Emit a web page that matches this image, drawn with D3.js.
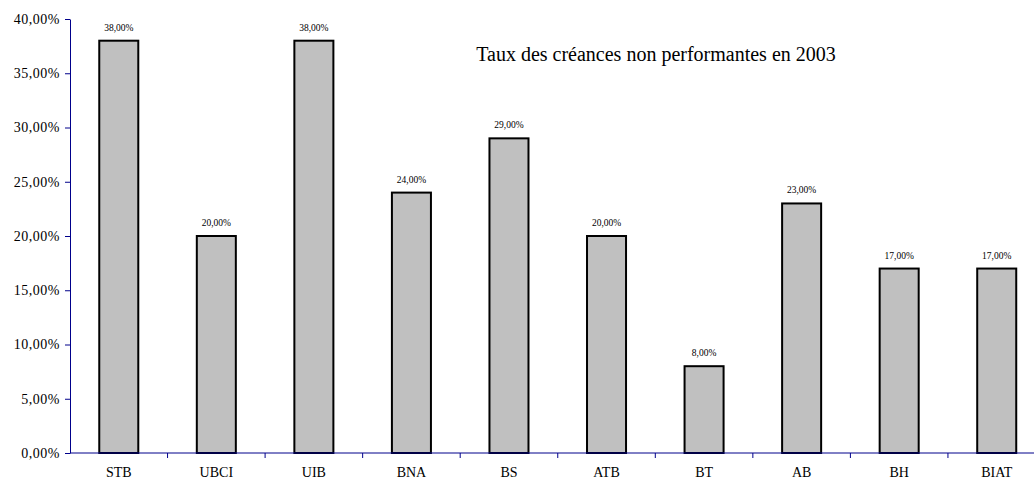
<!DOCTYPE html>
<html lang="fr">
<head>
<meta charset="UTF-8">
<title>Taux des créances non performantes</title>
<script src="https://d3js.org/d3.v7.min.js"></script>
<style>
    body { margin: 0; background: #fff; }
    text { font-family: "Liberation Serif", "DejaVu Serif", serif; fill: #000; }
    .axis path, .axis line { stroke: #00008b; }
    .bar { fill: #c0c0c0; stroke: #000; stroke-width: 2; }
</style>
</head>
<body>
<script>
    const banks = ["STB", "UBCI", "UIB", "BNA", "BS", "ATB", "BT", "AB", "BH", "BIAT"];
    const rates = [38, 20, 38, 24, 29, 20, 8, 23, 17, 17];
    const yTicks = [0, 5, 10, 15, 20, 25, 30, 35, 40];

    const W = 1034, H = 481;
    const mLeft = 70, mTop = 19, mBottom = 453;
    const band = 97.55;

    const fmt = d => d3.format(".2f")(d).replace(".", ",") + "%";

    const svg = d3.select("body").append("svg")
        .attr("width", W)
        .attr("height", H);

    // plot runs off the right edge, like the original
    const x = d3.scaleBand()
        .domain(banks)
        .range([mLeft, mLeft + band * banks.length])
        .paddingInner(0.6)
        .paddingOuter(0.3);

    const y = d3.scaleLinear()
        .domain([0, 40])
        .range([mBottom, mTop]);

    // y axis
    const ya = svg.append("g")
        .attr("class", "axis")
        .attr("transform", "translate(" + mLeft + ",0)")
        .call(d3.axisLeft(y).tickValues(yTicks).tickFormat(fmt).tickSize(5).tickSizeOuter(0));
    ya.selectAll("text").style("font-size", "14px").style("letter-spacing", "0.5px").attr("x", -10);

    // bars
    svg.selectAll(".bar")
        .data(rates)
        .enter()
        .append("rect")
        .attr("class", "bar")
        .attr("x", (d, i) => x(banks[i]))
        .attr("width", x.bandwidth())
        .attr("y", d => y(d))
        .attr("height", d => y(0) - y(d));

    // value labels
    svg.selectAll(".val")
        .data(rates)
        .enter()
        .append("text")
        .attr("class", "val")
        .attr("x", (d, i) => x(banks[i]) + x.bandwidth() / 2)
        .attr("y", d => y(d) - 10)
        .attr("text-anchor", "middle")
        .style("font-size", "9.5px")
        .text(fmt);

    // x axis: ticks between categories, pointing down
    const xa = svg.append("g")
        .attr("class", "axis")
        .attr("transform", "translate(0," + mBottom + ")");
    xa.append("line")
        .attr("x1", mLeft).attr("x2", W)
        .attr("stroke", "#00008b");
    xa.selectAll(".tk")
        .data(banks.slice(1))
        .enter()
        .append("line")
        .attr("x1", d => x(d) - x.step() * x.paddingInner() / 2)
        .attr("x2", d => x(d) - x.step() * x.paddingInner() / 2)
        .attr("y1", 0).attr("y2", 5)
        .attr("stroke", "#00008b");
    xa.selectAll(".lbl")
        .data(banks)
        .enter()
        .append("text")
        .attr("x", d => x(d) + x.bandwidth() / 2)
        .attr("y", 24)
        .attr("text-anchor", "middle")
        .style("font-size", "14px")
        .text(d => d);

    svg.append("text")
        .attr("x", 656)
        .attr("y", 61)
        .attr("text-anchor", "middle")
        .style("font-size", "20px")
        .text("Taux des créances non performantes en 2003");
</script>
</body>
</html>
